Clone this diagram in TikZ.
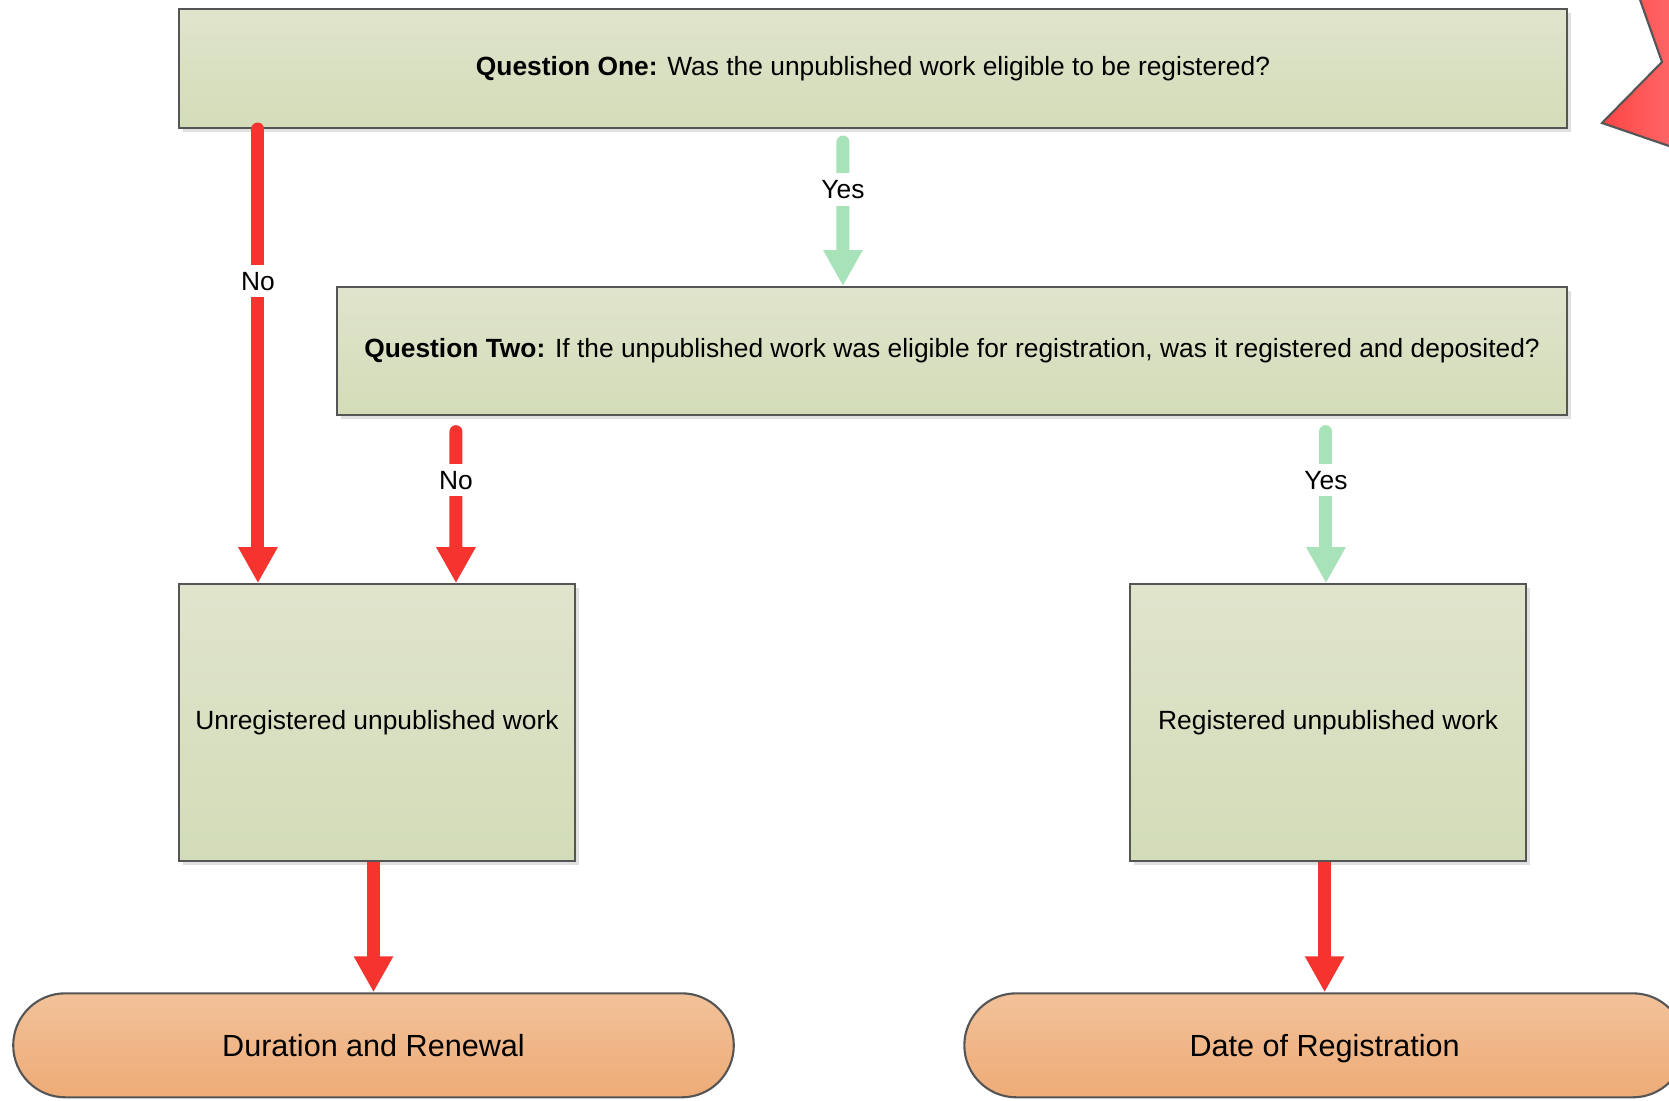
\documentclass[tikz,border=0pt]{standalone}
\usepackage{tikz}
\usepackage{xcolor}
\usepackage{fontspec}
\setmainfont{Liberation Sans}
\usetikzlibrary{shapes.misc, arrows.meta, positioning, shadows}

\definecolor{boxtop}{HTML}{E0E4CC}
\definecolor{boxbottom}{HTML}{D3DCB8}
\definecolor{termtop}{HTML}{F2C29A}
\definecolor{termbottom}{HTML}{EEAB76}
\definecolor{edgegray}{HTML}{555555}
\definecolor{noRed}{HTML}{F5332F}
\definecolor{yesGreen}{HTML}{A8E2B8}
\definecolor{starLeft}{HTML}{FF4545}
\definecolor{starRight}{HTML}{FF7474}

\tikzstyle{question} = [rectangle, text centered, draw=edgegray, line width=0.6pt, top color=boxtop, bottom color=boxbottom, drop shadow={shadow xshift=0.04cm, shadow yshift=-0.04cm, fill=black!12, opacity=1}, font=\fontsize{7.5}{9}\selectfont]
\tikzstyle{outcome} = [question, minimum width=3.96cm, minimum height=2.77cm]
\tikzstyle{terminal} = [rounded rectangle, minimum width=7.44cm, minimum height=1.04cm, text height=1.6ex, text depth=0.4ex, draw=edgegray, line width=0.6pt, top color=termtop, bottom color=termbottom, font=\fontsize{8.7}{10}\selectfont]
\tikzstyle{noarrow} = [line width=0.13cm, draw=noRed, line cap=round, -{Triangle[width=0.37cm, length=0.36cm, fill=noRed]}]
\tikzstyle{yesarrow} = [noarrow, draw=yesGreen, -{Triangle[width=0.37cm, length=0.36cm, fill=yesGreen]}]
\tikzstyle{downarrow} = [noarrow, line cap=butt]
\tikzstyle{answer} = [fill=white, inner sep=2pt, text=black, font=\fontsize{7.5}{9}\selectfont]

\begin{document}
\begin{tikzpicture}

\fill [white] (0,0) rectangle (16.69,11);
\useasboundingbox (0,0) rectangle (16.69,11);

% Star at the top right corner
\begin{scope}
\clip (0,0) rectangle (16.69,11);
\shade [left color=starLeft, right color=starRight, draw=edgegray, line width=0.6pt]
  (16.33,11.2) -- (16.62,10.38) -- (16.02,9.77) -- (16.69,9.54) -- (17.0,9.43) -- (17.0,11.2) -- cycle;
\end{scope}

% Questions
\node (q1) [question, minimum width=13.88cm, minimum height=1.19cm] at (8.73,10.315) {\textbf{Question One:} Was the unpublished work eligible to be registered?};
\node (q2) [question, minimum width=12.30cm, minimum height=1.28cm, below=1.57cm of q1.south east, anchor=north east] {\textbf{Question Two:} If the unpublished work was eligible for registration, was it registered and deposited?};

% Kinds of work
\node (unreg) [outcome, anchor=north west, yshift=-1.67cm] at (q1.west |- q2.south) {Unregistered unpublished work};
\node (reg) [outcome, right=5.53cm of unreg] {Registered unpublished work};

% Where to go next
\node (duration) [terminal, below=1.30cm of unreg, xshift=-0.035cm] {Duration and Renewal};
\node (date) [terminal, below=1.30cm of reg, xshift=-0.035cm] {Date of Registration};

% Answers
\draw [noarrow] ([xshift=0.80cm]q1.south west) -- ([xshift=0.80cm]unreg.north west) node [answer, pos=0.335] {No};
\draw [yesarrow] ([xshift=6.65cm, yshift=-0.13cm]q1.south west) -- ([xshift=5.07cm]q2.north west) node [answer, pos=0.33] {Yes};
\draw [noarrow] ([xshift=1.20cm, yshift=-0.155cm]q2.south west) -- ([xshift=2.78cm]unreg.north west) node [answer, pos=0.32] {No};
\draw [yesarrow] ([xshift=9.90cm, yshift=-0.155cm]q2.south west) coordinate (yes2) -- (yes2 |- reg.north) node [answer, pos=0.32] {Yes};

\draw [downarrow] (unreg.south -| duration.north) -- (duration.north);
\draw [downarrow] (reg.south -| date.north) -- (date.north);

\end{tikzpicture}
\end{document}
